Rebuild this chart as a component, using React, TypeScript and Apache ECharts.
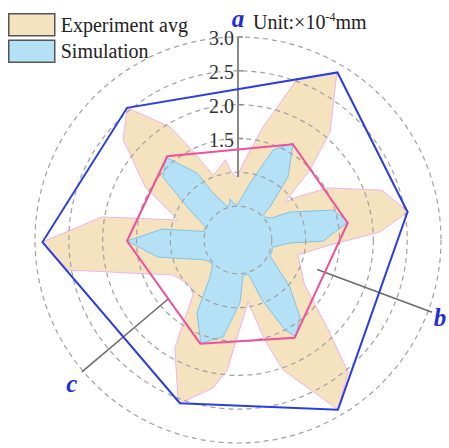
import React, { useEffect, useRef } from "react";
import * as echarts from "echarts";

// [angle in degrees (counter-clockwise from east), value ×10^-4 mm]
const EXPERIMENT_AVG: [number, number][] = [
  [346, 0.91], [356.9, 1.36], [3.2, 2.1], [9.4, 2.55], [19.1, 2.25], [30, 1.54], [36, 1.08],
  [39, 0.89], [44.2, 1.48], [49.6, 2.1], [59.5, 2.88], [70, 2.51], [77.5, 1.71], [86, 1.14],
  [91, 0.93], [95, 0.99], [99, 1.2], [106, 1.08], [111, 1.03], [117.5, 1.53], [121, 1.95],
  [130, 2.55], [139, 2.25], [140.7, 2.1], [150.3, 1.58], [161.6, 0.93], [168.5, 1.63],
  [170.4, 2.04], [180.6, 2.89], [190, 2.55], [197, 1.67], [208.3, 1.09], [223, 0.97],
  [230.7, 1.05], [237.2, 1.53], [239.7, 1.85], [249.4, 2.52], [250.4, 2.56], [260.4, 2.22],
  [265.2, 1.93], [279.2, 0.93], [285, 1.53], [289.1, 2.03], [300.5, 2.91], [309.8, 2.54],
  [315.6, 1.84], [326, 1.19],
];

const SIMULATION: [number, number][] = [
  [348.4, 0.52], [356.7, 0.77], [359.3, 1.26], [9.3, 1.65], [17.5, 1.47], [28.3, 0.87],
  [33, 0.6], [39, 0.53], [45, 0.53], [45.9, 0.68], [51.6, 1.19], [60.4, 1.65], [68.7, 1.43],
  [78, 0.86], [90, 0.53], [96, 0.53], [101, 0.62], [104, 0.53], [108, 0.52], [118, 0.79],
  [121.5, 1.16], [131, 1.62], [140, 1.45], [147, 0.9], [158, 0.52], [166, 0.52], [171.8, 1.13],
  [180.5, 1.64], [192, 1.21], [211, 0.57], [218, 0.53], [225, 0.53], [232.9, 0.69],
  [240.7, 1.24], [250.2, 1.62], [261.2, 1.45], [271.8, 0.93], [278, 0.53], [287, 0.53],
  [291.8, 0.95], [297.6, 1.5], [300.9, 1.67], [308.8, 1.46], [317.9, 1.03], [333.4, 0.53],
  [341, 0.53],
];

const EXPERIMENT_ENVELOPE: [number, number][] = [
  [9.4, 2.54], [59.3, 2.88], [130, 2.55], [180.6, 2.89], [250.4, 2.56], [300.5, 2.91],
];

const SIMULATION_ENVELOPE: [number, number][] = [
  [8.8, 1.64], [60.2, 1.63], [130.2, 1.62], [180.5, 1.64], [250, 1.63], [300, 1.67],
];

const RADIAL_TICKS = [1.5, 2.0, 2.5, 3.0];
const AXIS_NAMES = ["a", "b", "c"];
const AXIS_ANGLES = [90, 339.6, 220.2];
const AXIS_FROM = [0.93, 1.25, 1.34];
const AXIS_TO = [3.0, 3.06, 3.02];
const AXIS_NAME_POS: [number, number][] = [[3.27, 90], [3.2, 338.9], [3.25, 220.9]];

const SERIF = "'Liberation Serif', 'Times New Roman', serif";

function polygonSeries(
  name: string,
  pts: [number, number][],
  fill: string,
  stroke: string,
  lineWidth: number,
  z: number
) {
  return {
    type: "custom",
    name,
    coordinateSystem: "polar",
    z,
    silent: true,
    itemStyle: { color: fill === "none" ? stroke : fill, borderColor: stroke },
    data: [[0, 0]],
    renderItem: (_params: any, api: any) => ({
      type: "polygon",
      shape: { points: pts.map(([a, v]) => api.coord([v, a])) },
      style: { fill, stroke, lineWidth, lineJoin: "miter" },
    }),
  };
}

export default function App() {
  const ref = useRef<HTMLDivElement>(null);

  useEffect(() => {
    if (!ref.current) return;
    const chart = echarts.init(ref.current, null, { renderer: "svg" });

    const axesSeries = {
      type: "custom",
      name: "axes",
      coordinateSystem: "polar",
      z: 15,
      silent: true,
      data: [[0, 0]],
      renderItem: (_params: any, api: any) => {
        const children: any[] = [];
        AXIS_NAMES.forEach((n, i) => {
          const p0 = api.coord([AXIS_FROM[i], AXIS_ANGLES[i]]);
          const p1 = api.coord([AXIS_TO[i], AXIS_ANGLES[i]]);
          children.push({
            type: "line",
            shape: { x1: p0[0], y1: p0[1], x2: p1[0], y2: p1[1] },
            style: { stroke: i === 0 ? "#8a8a8a" : "#6a6a6a", lineWidth: i === 0 ? 2 : 1.5 },
          });
          const pn = api.coord(AXIS_NAME_POS[i]);
          children.push({
            type: "text",
            style: {
              text: n,
              x: pn[0],
              y: pn[1],
              fill: "#1f2ed6",
              font: `italic bold 25px ${SERIF}`,
              align: "center",
              verticalAlign: "middle",
            },
          });
        });
        RADIAL_TICKS.forEach((t) => {
          const p = api.coord([t, 90]);
          children.push({
            type: "line",
            shape: { x1: p[0], y1: p[1], x2: p[0] + 5, y2: p[1] },
            style: { stroke: "#8a8a8a", lineWidth: 1.5 },
          });
          children.push({
            type: "text",
            style: {
              text: t.toFixed(1),
              x: p[0] - 4,
              y: p[1] + 1,
              fill: "#333",
              font: `20px ${SERIF}`,
              align: "right",
              verticalAlign: "middle",
            },
          });
        });
        return { type: "group", children };
      },
    };

    chart.setOption({
      animation: false,
      polar: { center: [238, 240], radius: 203 },
      angleAxis: {
        type: "value",
        min: 0,
        max: 360,
        startAngle: 0,
        clockwise: false,
        axisLine: { show: false },
        axisTick: { show: false },
        axisLabel: { show: false },
        splitLine: { show: false },
      },
      radiusAxis: {
        type: "value",
        min: 0,
        max: 3,
        interval: 0.5,
        z: 10,
        axisLine: { show: false },
        axisTick: { show: false },
        axisLabel: { show: false },
        splitLine: {
          show: true,
          lineStyle: { type: [5, 4], color: "#a0a0a0", width: 1.2 },
        },
      },
      legend: {
        orient: "vertical",
        left: 3,
        top: 8,
        padding: 5,
        itemWidth: 46,
        itemHeight: 22,
        itemGap: 3,
        textStyle: { fontFamily: SERIF, fontSize: 20, color: "#222", lineHeight: 22, padding: [0, 0, 0, 1] },
        data: [
          {
            name: "Experiment avg",
            icon: "rect",
            itemStyle: { color: "#f5e2bf", borderColor: "#555", borderWidth: 1.5 },
          },
          {
            name: "Simulation",
            icon: "rect",
            itemStyle: { color: "#b5e1f6", borderColor: "#555", borderWidth: 1.5 },
          },
        ],
      },
      graphic: [
        {
          type: "text",
          left: 253,
          top: 11,
          style: {
            text: "{n|Unit:×10}{s|-4}{n|mm}",
            rich: {
              n: { fontFamily: SERIF, fontSize: 20, fill: "#222", lineHeight: 24 },
              s: { fontFamily: SERIF, fontSize: 12, fill: "#222", lineHeight: 24, padding: [0, 0, 10, 0] },
            },
          },
        },
      ],
      series: [
        polygonSeries("Experiment avg", EXPERIMENT_AVG, "#f5e2bf", "#efb4e6", 1, 2),
        polygonSeries("Simulation", SIMULATION, "#b5e1f6", "#7cc4e6", 1, 3),
        polygonSeries("Simulation envelope", SIMULATION_ENVELOPE, "none", "#f24f9a", 2, 20),
        polygonSeries("Experiment envelope", EXPERIMENT_ENVELOPE, "none", "#2b3ce6", 2, 20),
        axesSeries,
      ],
    });

    return () => chart.dispose();
  }, []);

  return (
    <div
      ref={ref}
      style={{ position: "absolute", left: 0, top: 0, width: 449, height: 448, background: "#fff" }}
    />
  );
}
